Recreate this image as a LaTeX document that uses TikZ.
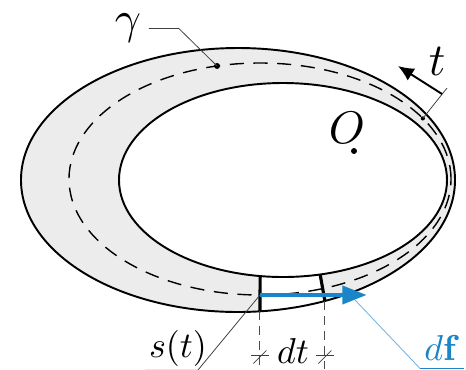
\documentclass[tikz,border=0pt]{standalone}
\usetikzlibrary{arrows.meta,calc}
\definecolor{ringgray}{RGB}{236,236,236}
\definecolor{dfblue}{RGB}{26,133,200}
\begin{document}
\begin{tikzpicture}[
  rim/.style={line width=1.1pt},
  cutline/.style={line width=1.8pt},
  lead/.style={line width=0.45pt, black!75},
  dimline/.style={line width=0.6pt, black!70, dash pattern=on 5pt off 3.5pt},
  biglabel/.style={scale=2.6, inner sep=0.8pt},
  smalllabel/.style={scale=2.05, inner sep=1pt}]
\useasboundingbox (0,0) rectangle (9.32,-7.38);
% centres of the three curves
\coordinate (oc) at (4.76,-3.60);
\coordinate (ic) at (5.66,-3.60);
\coordinate (dc) at (5.20,-3.58);
% ring
\fill[ringgray, even odd rule] (oc) ellipse[x radius=4.34, y radius=2.64]
  (ic) ellipse[x radius=3.28, y radius=1.94];
% cut out piece
\fill[white] ([shift={(oc)}]-84.2:4.34 and 2.64) coordinate (o1)
  arc[start angle=-84.2, end angle=-66.4, x radius=4.34, y radius=2.64] coordinate (o2)
  -- ([shift={(ic)}]-76.9:3.28 and 1.94) coordinate (i2)
  arc[start angle=-76.9, end angle=-98, x radius=3.28, y radius=1.94] coordinate (i1)
  -- cycle;
\draw[line width=0.8pt, dash pattern=on 8pt off 5.5pt] (dc) ellipse[x radius=3.82, y radius=2.32];
\draw[rim] (oc) ellipse[x radius=4.34, y radius=2.64];
\draw[rim] (ic) ellipse[x radius=3.28, y radius=1.94];
\draw[cutline] (o1) -- (i1);
\draw[cutline] (o2) -- (i2);
% points on gamma
\coordinate (gdot) at ([shift={(dc)}]103:3.82 and 2.32);
\coordinate (tdot) at ([shift={(dc)}]31.5:3.82 and 2.32);
\coordinate (st) at ([shift={(dc)}]-90:3.82 and 2.32);
\fill (gdot) circle (1.7pt);
\fill (tdot) circle (1.2pt);
% gamma
\node[biglabel, inner xsep=1.5pt] (gam) at (2.56,-0.57) {$\gamma$};
\draw[lead] (gam.east) -- ++(0.6,0) -- (gdot);
% t
\node[biglabel] (tl) at (8.74,-1.22) {$t$};
\coordinate (ttick) at (8.94,-1.76);
\draw[lead] (tdot) -- (ttick);
\coordinate (tfoot) at ($(tdot)!0.8!(ttick)$);
\draw[line width=1.1pt, -{Latex[length=9pt,width=8pt]}] (tfoot) -- (7.96,-1.32);
% O
\node[biglabel] (O) at (6.94,-2.56) {$O$};
\coordinate (odot) at (7.08,-3.02);
\fill (odot) circle (1.7pt);
% df
\draw[dfblue, line width=2.8pt, -{Triangle[length=14pt,width=10pt]}] (st) -- ++(2.14,0) coordinate (dftip);
\coordinate (dfp) at (7.10,-6.00);
\node[smalllabel, text=dfblue, inner ysep=2pt] (df) at (8.84,-6.96) {$d\mathbf{f}$};
\draw[dfblue!60, line width=0.5pt] (dfp) -- (df.south west);
\draw[dfblue, line width=0.9pt] (df.south west) -- (df.south east);
% s(t)
\node[smalllabel] (stl) at (3.56,-6.96) {$s(t)$};
\draw[lead] (stl.south west) -- ++(1.06,0) -- (st);
% dt
\draw[dimline] (o1) -- (o1 |- 0,-7.38);
\draw[dimline] (o2) -- (o2 |- 0,-7.38);
\coordinate (dl) at (o1 |- 0,-7.10);
\coordinate (dr) at (o2 |- 0,-7.10);
\foreach \p in {dl,dr} {
  \draw[lead] ([xshift=-0.18cm]\p) -- ([xshift=0.18cm]\p);
  \draw[lead] ([shift={(-0.13,-0.17)}]\p) -- ([shift={(0.13,0.09)}]\p);
}
\node[smalllabel] (dt) at (5.86,-7.02) {$dt$};
\end{tikzpicture}
\end{document}
